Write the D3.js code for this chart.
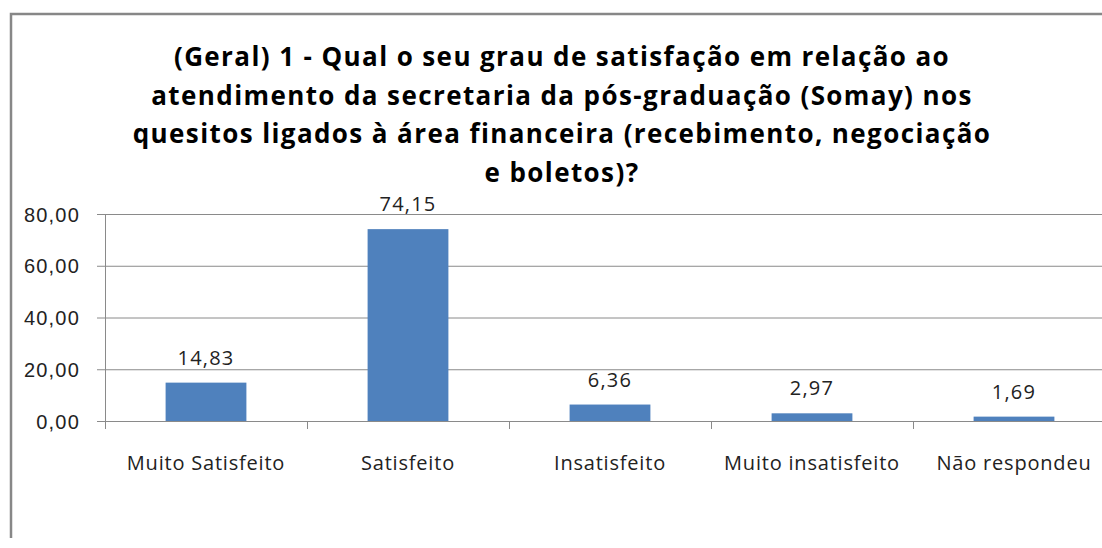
<!DOCTYPE html>
<html>
<head>
<meta charset="utf-8">
<script src="https://cdn.jsdelivr.net/npm/d3@7"></script>
<style>
  body { margin: 0; background: #fff; overflow: hidden; }
  svg { display: block; font-family: "Open Sans", sans-serif; }
</style>
</head>
<body>
<svg id="chart"></svg>
<script>
var width = 1102;
var height = 548;

// data
var categories = ['Muito Satisfeito', 'Satisfeito', 'Insatisfeito', 'Muito insatisfeito', 'Não respondeu'];
var values = [14.83, 74.15, 6.36, 2.97, 1.69];
var yTicks = [0, 20, 40, 60, 80];
var titleLines = [
  '(Geral) 1 - Qual o seu grau de satisfação em relação ao',
  'atendimento da secretaria da pós-graduação (Somay) nos',
  'quesitos ligados à área financeira (recebimento, negociação',
  'e boletos)?'
];

var fmt = d => d3.format('.2f')(d).replace('.', ',');

var svg = d3.select('#chart')
    .attr('width', width)
    .attr('height', height);

// chart frame (right and bottom edges fall outside the picture)
svg.append('path')
    .attr('d', 'M11,538 V14 H1102')
    .attr('fill', 'none')
    .attr('stroke', '#878787')
    .attr('stroke-width', 2.5);

// Scales
var xScale = d3.scaleBand()
    .domain(categories)
    .range([105, 1115])
    .paddingInner(0.6)
    .paddingOuter(0.3);

var yScale = d3.scaleLinear()
    .domain([0, 80])
    .range([421, 214]);

// gridlines + y axis
var yAxis = d3.axisLeft(yScale)
    .tickValues(yTicks)
    .tickSize(-(1115 - 97))
    .tickFormat(fmt)
    .tickPadding(17);

var gy = svg.append('g')
    .attr('transform', 'translate(97,0)')
    .call(yAxis);
gy.select('.domain').remove();
gy.selectAll('line').attr('stroke', '#8a8a8a');
gy.selectAll('text')
    .attr('fill', '#222')
    .attr('dy', '0.36em')
    .style('font-size', '20px')
    .style('letter-spacing', '1.2px');

// vertical axis line
svg.append('line')
    .attr('x1', 105.5).attr('x2', 105.5)
    .attr('y1', yScale(80)).attr('y2', yScale(0))
    .attr('stroke', '#8a8a8a');

// category tick marks between bands
var bounds = d3.range(categories.length + 1).map(i => 105 + i * (1115 - 105) / categories.length);
svg.selectAll('.xtick')
    .data(bounds)
    .enter()
    .append('line')
    .attr('x1', d => Math.round(d) + 0.5)
    .attr('x2', d => Math.round(d) + 0.5)
    .attr('y1', yScale(0))
    .attr('y2', yScale(0) + 8)
    .attr('stroke', '#8a8a8a');

// bars
svg.selectAll('rect.bar')
    .data(values)
    .enter()
    .append('rect')
    .attr('class', 'bar')
    .attr('x', (d, i) => xScale(categories[i]))
    .attr('width', xScale.bandwidth())
    .attr('y', d => yScale(d))
    .attr('height', d => yScale(0) - yScale(d))
    .attr('fill', '#4f81bd');

// value labels
svg.selectAll('text.val')
    .data(values)
    .enter()
    .append('text')
    .attr('class', 'val')
    .attr('x', (d, i) => xScale(categories[i]) + xScale.bandwidth() / 2)
    .attr('y', d => yScale(d) - 18)
    .style('text-anchor', 'middle')
    .style('font-size', '20px')
    .style('letter-spacing', '1.2px')
    .attr('fill', '#222')
    .text(fmt);

// category labels
svg.selectAll('text.cat')
    .data(categories)
    .enter()
    .append('text')
    .attr('class', 'cat')
    .attr('x', d => xScale(d) + xScale.bandwidth() / 2)
    .attr('y', 470)
    .style('text-anchor', 'middle')
    .style('font-size', '20px')
    .style('letter-spacing', '0.8px')
    .attr('fill', '#222')
    .text(d => d);

// Title
svg.append('text')
    .attr('x', 562)
    .attr('y', 66)
    .style('text-anchor', 'middle')
    .style('font-size', '26px')
    .style('font-weight', 'bold')
    .style('letter-spacing', '1.4px')
    .attr('fill', '#000')
    .selectAll('tspan')
    .data(titleLines)
    .enter()
    .append('tspan')
    .attr('x', 562)
    .attr('dy', (d, i) => i === 0 ? 0 : 38.7)
    .text(d => d);
</script>
</body>
</html>
